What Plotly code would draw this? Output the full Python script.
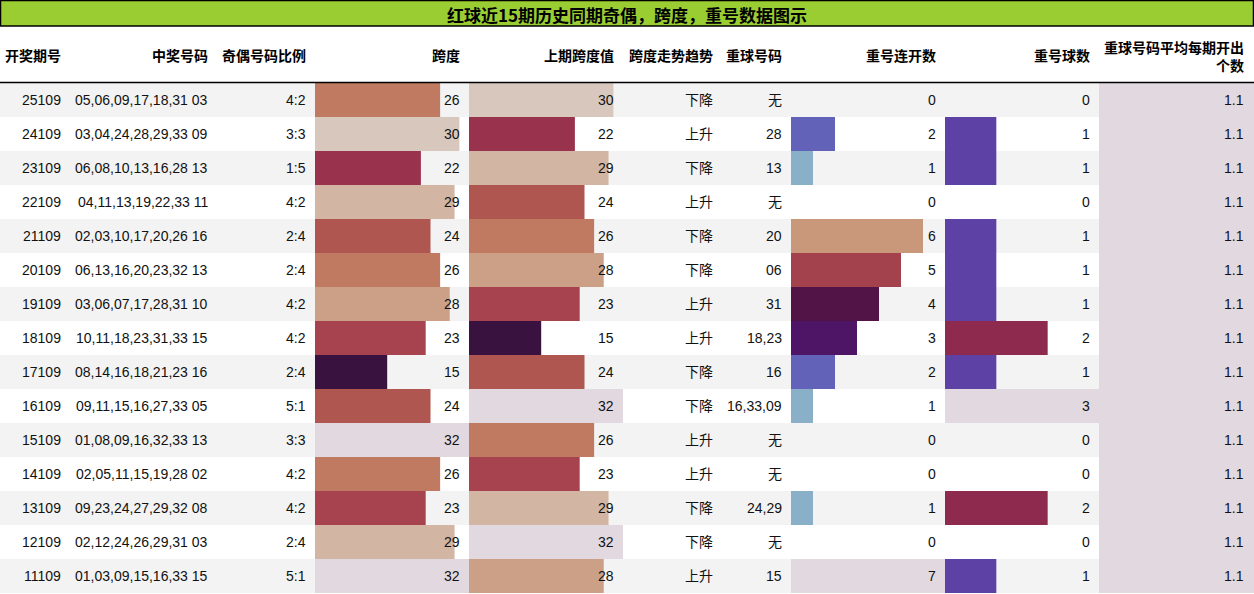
import plotly.graph_objects as go

issues = ["25109","24109","23109","22109","21109","20109","19109","18109","17109","16109","15109","14109","13109","12109","11109"]
numbers = ["05,06,09,17,18,31 03","03,04,24,28,29,33 09","06,08,10,13,16,28 13","04,11,13,19,22,33 11",
           "02,03,10,17,20,26 16","06,13,16,20,23,32 13","03,06,07,17,28,31 10","10,11,18,23,31,33 15",
           "08,14,16,18,21,23 16","09,11,15,16,27,33 05","01,08,09,16,32,33 13","02,05,11,15,19,28 02",
           "09,23,24,27,29,32 08","02,12,24,26,29,31 03","01,03,09,15,16,33 15"]
ratios = ["4:2","3:3","1:5","4:2","2:4","2:4","4:2","4:2","2:4","5:1","3:3","4:2","4:2","2:4","5:1"]
spans = [26,30,22,29,24,26,28,23,15,24,32,26,23,29,32]
prev_spans = [30,22,29,24,26,28,23,15,24,32,26,23,29,32,28]
trends = ["下降","上升","下降","上升","下降","下降","上升","上升","下降","下降","上升","上升","下降","下降","上升"]
repeat_nums = ["无","28","13","无","20","06","31","18,23","16","16,33,09","无","无","24,29","无","15"]
repeat_runs = [0,2,1,0,6,5,4,3,2,1,0,0,1,0,7]
repeat_counts = [0,1,1,0,1,1,1,2,1,3,0,0,2,0,1]
avg_vals = [1.1]*15
headers = ["开奖期号","中奖号码","奇偶号码比例","跨度","上期跨度值","跨度走势趋势","重球号码","重号连开数","重号球数","重球号码平均每期开出<br>个数"]
title = "红球近15期历史同期奇偶，跨度，重号数据图示"

span_colors = {15:"#3a1240",22:"#98324d",23:"#a6434e",24:"#b05650",26:"#c17a62",28:"#cca086",29:"#d2b5a2",30:"#d8c7bd",32:"#e2d8e0"}
run_colors = {1:"#8aafc8",2:"#6263b8",3:"#4e1466",4:"#521347",5:"#a3414d",6:"#c9977a",7:"#e2d8e0"}
cnt_colors = {1:"#5e41a4",2:"#8e2a4d",3:"#e2d8e0"}

col_edges = [0,70,215,315,469,623,720,791,945,1099,1254]
ROW0, RH = 83, 34
yc = [ROW0 + RH*i + RH/2 for i in range(15)]

fig = go.Figure()
shapes = []
for i in range(15):
    if i % 2 == 0:
        shapes.append(dict(type="rect", xref="x", yref="y", x0=0, x1=1254, y0=ROW0+RH*i, y1=ROW0+RH*(i+1),
                           fillcolor="#f3f3f3", line_width=0, layer="below"))
shapes.append(dict(type="rect", xref="x", yref="y", x0=0.5, x1=1253.5, y0=0.5, y1=26, fillcolor="#9acd32",
                   line=dict(color="black", width=1.5)))
shapes.append(dict(type="line", xref="x", yref="y", x0=0, x1=1254, y0=82.5, y1=82.5, line=dict(color="black", width=1.5)))

def add_bars(vals, cmap, ci, vmax):
    x0, x1 = col_edges[ci], col_edges[ci+1]
    w = x1 - x0
    fig.add_trace(go.Bar(orientation="h", y=yc, x=[v/vmax*w for v in vals], base=[x0]*15, width=RH,
                         marker=dict(color=[cmap.get(v, "rgba(0,0,0,0)") for v in vals], line_width=0),
                         hoverinfo="skip", showlegend=False))

add_bars(spans, span_colors, 3, max(spans + prev_spans))
add_bars(prev_spans, span_colors, 4, max(spans + prev_spans))
add_bars(repeat_runs, run_colors, 7, max(repeat_runs))
add_bars(repeat_counts, cnt_colors, 8, max(repeat_counts))
add_bars(avg_vals, {1.1:"#e2d8e0"}, 9, max(avg_vals))

cols = [issues, numbers, ratios, [str(v) for v in spans], [str(v) for v in prev_spans], trends, repeat_nums,
        [str(v) for v in repeat_runs], [str(v) for v in repeat_counts], [str(v) for v in avg_vals]]
right_x = [63,210,308,462,616,715,784,938,1092,1246]
font = dict(family="Liberation Sans, Noto Sans CJK SC", size=14, color="#111")
anns = []
for ci, col in enumerate(cols):
    for i, t in enumerate(col):
        anns.append(dict(x=right_x[ci], y=yc[i], text=t, xref="x", yref="y", xanchor="right", yanchor="middle",
                         showarrow=False, font=font))
    anns.append(dict(x=right_x[ci], y=55 if ci < 9 else 56, text="<b>"+headers[ci]+"</b>", xref="x", yref="y",
                     xanchor="right", yanchor="middle", showarrow=False, align="right",
                     font=dict(family="Noto Sans CJK SC", size=14, color="#000")))
anns.append(dict(x=627, y=14, text="<b>"+title+"</b>", xref="x", yref="y", showarrow=False,
                 font=dict(family="Noto Sans CJK SC", size=17, color="#000")))

fig.update_layout(width=1254, height=594, margin=dict(l=0, r=0, t=0, b=0), plot_bgcolor="white",
                  paper_bgcolor="white", barmode="overlay", shapes=shapes, annotations=anns,
                  xaxis=dict(range=[0,1254], visible=False, fixedrange=True),
                  yaxis=dict(range=[594,0], visible=False, fixedrange=True))
fig.write_html("out.html", config={"displayModeBar": False},
               post_script="document.body.style.margin='0';document.body.style.overflow='hidden';")
